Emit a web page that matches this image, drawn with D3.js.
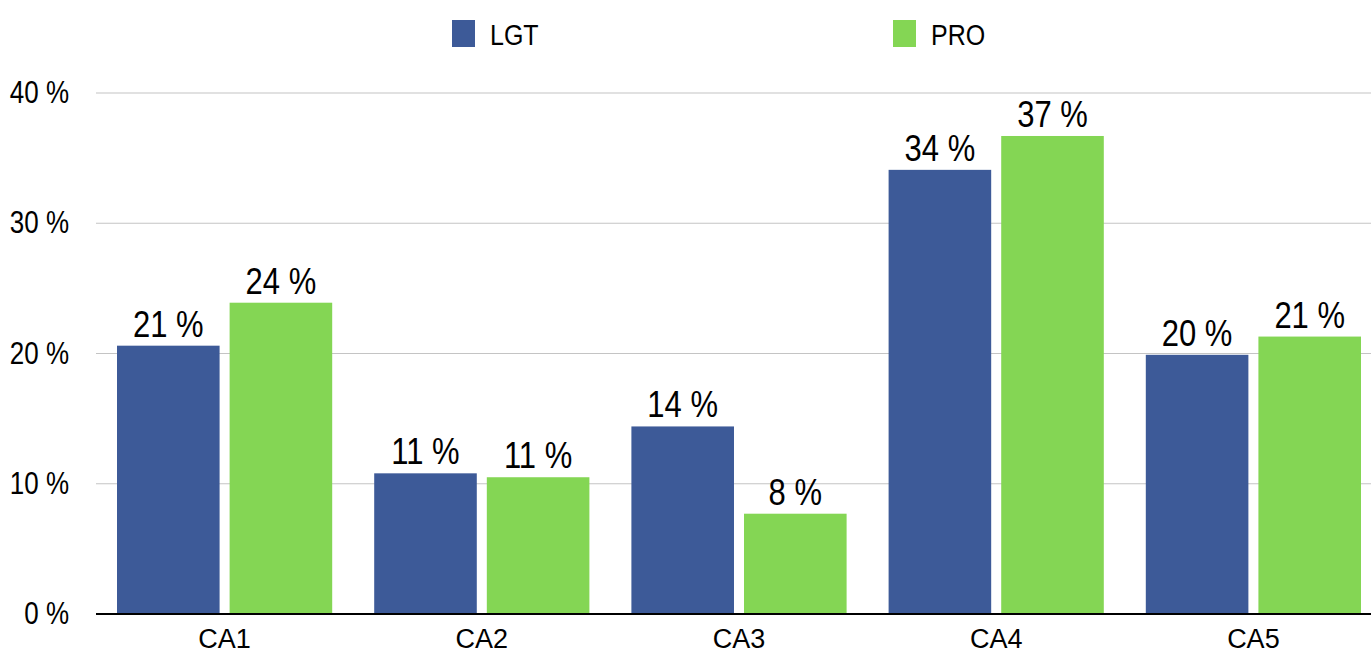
<!DOCTYPE html>
<html>
<head>
<meta charset="utf-8">
<script src="https://cdn.jsdelivr.net/npm/d3@7"></script>
<style>
  body { margin: 0; background: #fff; }
  text { font-family: "Liberation Sans", Arial, sans-serif; fill: #000; }
</style>
</head>
<body>
<svg id="chart" width="1371" height="655"></svg>
<script>
var categories = ["CA1", "CA2", "CA3", "CA4", "CA5"];
var seriesNames = ["LGT", "PRO"];
var lgtValues = [20.6, 10.8, 14.4, 34.1, 19.9];
var proValues = [23.9, 10.5, 7.7, 36.7, 21.3];
var yTicks = [0, 10, 20, 30, 40];
var colors = ["#3d5a98", "#84d654"];

var svg = d3.select("#chart");
var width = 1371, height = 655;
var margin = {top: 93, left: 96, bottom: 41};
var stretch = 1.2; // text in the reference is a bit taller than wide
var step = 257.2;

var x = d3.scaleBand()
    .domain(categories)
    .range([margin.left, margin.left + 5 * step]);

var x1 = d3.scaleBand()
    .domain(seriesNames)
    .range([21, step - 21])
    .paddingInner(0.089);

var y = d3.scaleLinear()
    .domain([0, 40])
    .range([height - margin.bottom, margin.top]);

// gridlines
svg.append("g").selectAll("line")
    .data(yTicks.slice(1))
    .enter().append("line")
    .attr("x1", margin.left).attr("x2", width)
    .attr("y1", function(d) { return y(d); })
    .attr("y2", function(d) { return y(d); })
    .attr("stroke", "#c4c4c4")
    .attr("stroke-width", 1.2);

// y tick labels
svg.append("g").selectAll("text")
    .data(yTicks)
    .enter().append("text")
    .attr("text-anchor", "end")
    .attr("transform", function(d) { return "translate(69," + (y(d) + 10) + ") scale(1," + stretch + ")"; })
    .style("font-size", "26px")
    .text(function(d) { return d + " %"; });

var data = categories.map(function(c, i) {
    return {cat: c, vals: [{s: "LGT", v: lgtValues[i]}, {s: "PRO", v: proValues[i]}]};
});

var groups = svg.append("g").selectAll("g")
    .data(data)
    .enter().append("g")
    .attr("transform", function(d) { return "translate(" + x(d.cat) + ",0)"; });

groups.selectAll("rect")
    .data(function(d) { return d.vals; })
    .enter().append("rect")
    .attr("x", function(d) { return x1(d.s); })
    .attr("width", x1.bandwidth())
    .attr("y", function(d) { return y(d.v); })
    .attr("height", function(d) { return y(0) - y(d.v); })
    .attr("fill", function(d, i) { return colors[i]; });

groups.selectAll("text.val")
    .data(function(d) { return d.vals; })
    .enter().append("text")
    .attr("class", "val")
    .attr("text-anchor", "middle")
    .attr("transform", function(d) {
        return "translate(" + (x1(d.s) + x1.bandwidth() / 2) + "," + (y(d.v) - 9) + ") scale(1," + stretch + ")";
    })
    .style("font-size", "31px")
    .text(function(d) { return Math.round(d.v) + " %"; });

// baseline axis
svg.append("line")
    .attr("x1", margin.left).attr("x2", width)
    .attr("y1", y(0)).attr("y2", y(0))
    .attr("stroke", "#000")
    .attr("stroke-width", 2);

// category labels
svg.append("g").selectAll("text")
    .data(categories)
    .enter().append("text")
    .attr("text-anchor", "middle")
    .attr("x", function(d) { return x(d) + x.bandwidth() / 2; })
    .attr("y", 648)
    .style("font-size", "27px")
    .text(function(d) { return d; });

// legend
var legendX = [452, 893];
var legend = svg.append("g").selectAll("g")
    .data(seriesNames)
    .enter().append("g")
    .attr("transform", function(d, i) { return "translate(" + legendX[i] + ",20)"; });

legend.append("rect")
    .attr("width", 23).attr("height", 27)
    .attr("fill", function(d, i) { return colors[i]; });

legend.append("text")
    .attr("transform", "translate(38,25) scale(1," + stretch + ")")
    .style("font-size", "25px")
    .text(function(d) { return d; });
</script>
</body>
</html>
